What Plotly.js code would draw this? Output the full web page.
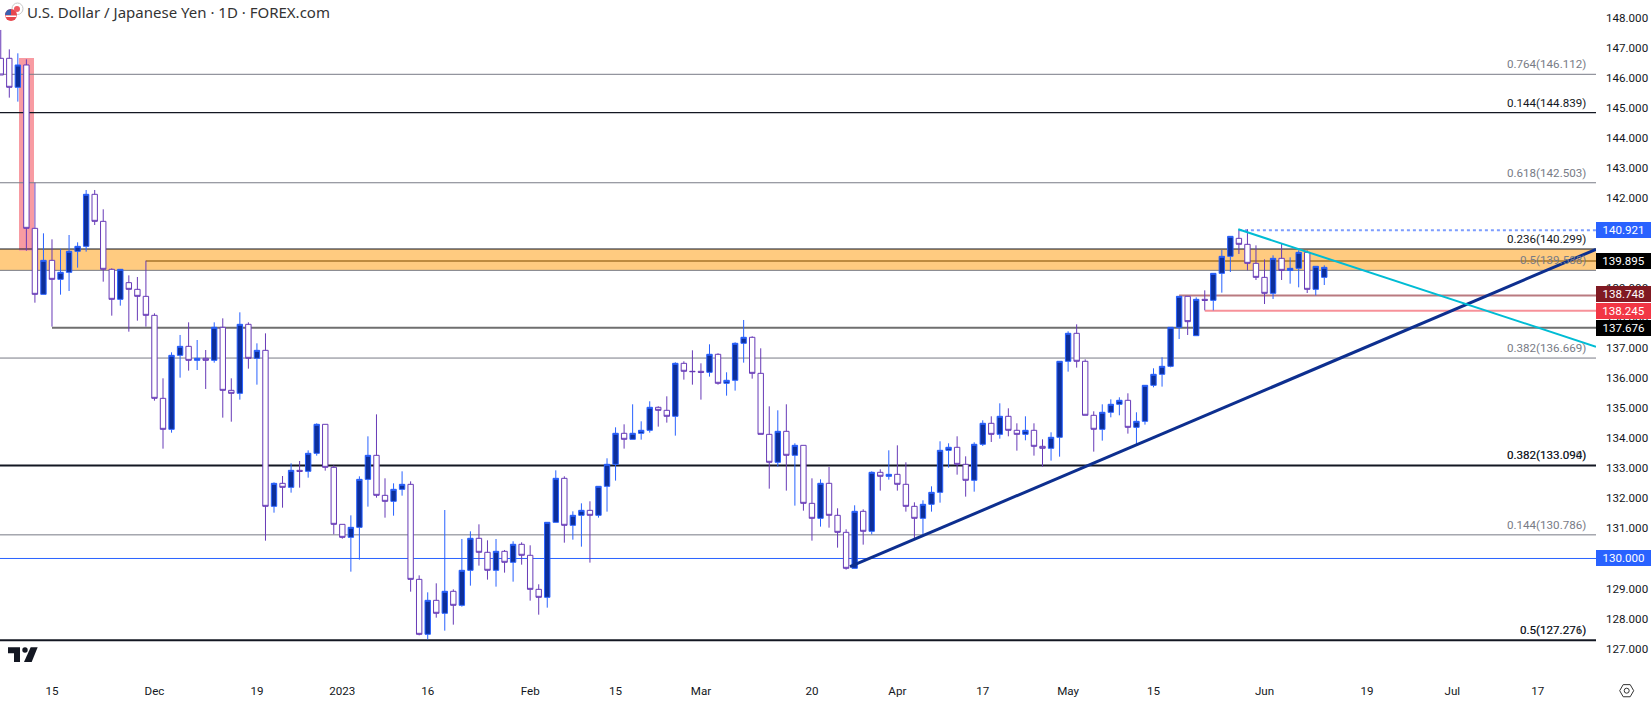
<!DOCTYPE html>
<html>
<head>
<meta charset="utf-8">
<script src="https://cdn.plot.ly/plotly-3.0.1.min.js"></script>
<style>html,body{margin:0;padding:0;background:#fff;overflow:hidden}#chart{width:1651px;height:701px}</style>
</head>
<body>
<div id="chart"></div>
<script>
// Daily bars, ten to a line.
const opens = [
146.644,146.644,145.679,146.422,140.986,138.790,139.921,139.289,139.522,140.221,
140.387,142.118,141.219,139.622,138.623,139.178,138.956,138.723,138.091,135.329,
134.297,136.760,137.059,136.594,136.660,136.594,137.692,135.595,135.495,137.792,
136.660,136.926,131.735,132.500,132.367,132.933,132.900,133.499,134.464,133.033,
131.136,130.703,131.036,132.633,133.432,132.101,131.901,132.301,132.467,129.305,
127.476,128.607,128.175,128.907,128.441,129.606,130.671,130.205,129.606,130.238,
129.872,130.471,130.105,128.973,128.707,131.203,132.667,131.103,131.436,131.602,
131.436,132.401,133.133,134.165,133.965,134.165,134.265,135.030,134.930,134.731,
136.494,136.228,136.228,136.195,136.794,135.829,135.929,137.160,137.360,136.161,
134.131,133.200,134.231,133.433,133.765,131.835,131.336,132.501,131.436,130.870,
129.672,131.569,130.904,132.867,132.734,132.800,132.468,131.735,131.336,131.802,
132.201,133.599,133.699,133.133,132.601,133.799,134.498,134.131,134.731,134.265,
134.131,134.265,133.732,133.666,134.032,136.561,137.493,136.561,134.764,134.298,
134.864,135.130,135.263,134.364,134.564,135.762,136.128,136.394,137.691,138.723,
137.414,138.623,138.590,139.488,140.054,140.653,140.454,139.821,139.355,138.823,
139.988,139.588,139.655,140.187,138.956,139.355];
const closes = [
146.089,145.679,146.422,140.986,138.790,139.921,139.289,139.522,140.221,140.387,
142.118,141.219,139.622,138.623,139.622,138.956,138.723,138.091,135.329,134.297,
136.760,137.059,136.594,136.660,136.594,137.692,135.595,135.495,137.792,136.660,
136.926,131.735,132.500,132.367,132.933,132.900,133.499,134.464,133.033,131.136,
130.703,131.036,132.633,133.432,132.101,131.901,132.301,132.467,129.305,127.475,
128.607,128.175,128.907,128.441,129.606,130.671,130.205,129.606,130.238,129.872,
130.471,130.105,128.973,128.707,131.203,132.667,131.103,131.436,131.602,131.436,
132.401,133.133,134.165,133.965,134.165,134.265,135.030,134.930,134.731,136.494,
136.228,136.217,136.195,136.794,135.829,135.929,137.160,137.360,136.161,134.131,
133.200,134.231,133.433,133.765,131.835,131.336,132.501,131.436,130.870,129.672,
131.569,130.904,132.867,132.734,132.800,132.468,131.735,131.336,131.802,132.201,
133.599,133.699,133.133,132.601,133.799,134.498,134.131,134.731,134.265,134.131,
134.265,133.732,133.666,134.032,136.561,137.493,136.561,134.764,134.298,134.864,
135.130,135.263,134.364,134.564,135.762,136.128,136.394,137.692,138.723,137.880,
138.623,138.590,139.488,140.054,140.720,140.454,139.821,139.355,138.823,139.988,
139.588,139.655,140.187,138.956,139.722,139.688];
const highs = [
147.587,146.943,146.810,146.610,142.506,140.820,140.620,140.298,140.764,140.520,
142.262,142.262,141.619,139.655,139.622,139.422,139.367,139.910,138.158,135.995,
136.860,137.437,137.858,137.270,136.937,137.858,137.991,135.995,138.191,137.858,
137.159,137.492,132.533,132.744,133.166,133.243,133.598,134.497,134.464,133.099,
131.136,131.435,132.733,134.064,134.796,132.667,132.500,132.900,132.567,129.438,
128.873,129.173,131.613,128.973,130.648,130.903,131.136,130.604,130.648,130.282,
130.571,130.537,130.438,129.140,131.203,132.933,132.734,131.569,131.835,131.902,
132.401,133.333,134.364,134.464,135.130,134.564,135.230,135.063,135.396,136.528,
136.561,136.927,136.494,137.127,136.827,136.195,137.193,137.936,137.393,136.994,
135.063,134.930,135.130,133.832,133.765,132.667,132.634,133.044,131.669,130.970,
131.769,131.636,132.900,132.967,133.599,133.765,133.200,131.868,131.935,132.401,
133.899,133.832,134.065,133.399,133.865,134.598,134.731,135.163,134.997,134.498,
134.731,134.498,133.965,134.198,136.561,137.559,137.792,136.627,134.897,135.130,
135.296,135.363,135.496,134.864,135.762,136.328,136.694,137.692,138.723,138.723,
138.690,138.923,139.488,140.265,140.720,140.953,140.953,140.420,139.954,140.088,
140.487,140.021,140.254,140.254,139.722,139.755];
const lows = [
146.089,145.335,145.202,140.243,138.512,138.790,137.714,138.779,138.901,139.677,
140.210,141.097,139.211,138.080,138.413,137.547,137.913,137.714,135.251,133.654,
134.186,136.017,136.250,136.272,135.640,136.516,134.686,134.552,135.285,136.316,
135.784,130.592,131.524,131.690,132.190,132.356,132.689,133.421,132.922,130.803,
130.659,129.561,129.960,131.724,132.023,131.358,131.424,132.090,128.895,127.442,
127.310,128.030,127.598,127.797,128.396,129.095,129.761,129.295,129.062,129.528,
129.228,129.794,128.596,128.130,128.363,131.203,130.526,130.626,130.393,129.861,
131.358,131.558,132.590,133.655,133.965,133.954,134.187,134.387,134.520,134.087,
135.951,135.784,135.285,136.051,135.784,135.418,135.585,136.516,135.984,134.131,
132.323,133.055,132.257,131.758,131.591,130.593,131.059,131.025,130.360,129.628,
129.672,130.460,130.804,132.257,132.623,132.257,131.558,130.671,130.804,131.558,
131.857,133.022,132.789,132.057,132.223,133.743,133.876,133.987,134.065,133.588,
133.932,133.422,133.055,133.255,133.388,136.217,136.350,134.764,133.555,133.921,
134.697,134.764,134.154,133.799,134.453,135.696,135.718,136.361,137.303,137.436,
137.414,138.257,138.257,138.845,139.533,140.132,139.588,139.267,138.468,138.634,
139.267,139.145,139.023,138.834,138.756,139.100];

const tickBars = [6,18,30,40,50,62,72,82,95,105,115,125,135,148,160,170,180];
const tickNames = ['15','Dec','19','2023','16','Feb','15','Mar','20','Apr','17','May','15','Jun','19','Jul','17'];

const fibLevels = [146.112,144.839,142.503,140.299,139.588,136.669,133.094,130.786,127.276];
const fibRatios = ['0.764','0.144','0.618','0.236','0.5','0.382','0.382','0.144','0.5'];
const fibColors = ['#787b86','#131722','#787b86','#131722','#787b86','#787b86','#131722','#787b86','#131722'];
const fibWidths = [1,1.2,1,1.2,1,1,2,1,2];

const markLevels = [140.921,139.895,138.748,138.245,137.676,130];
const markStarts = [145,17,138,141,6,0];
const markLineColors = ['#7c9dff','#bd8a3f','#b97a80','#f7929a','#6f6f6f','#2962ff'];
const markDashes = ['dot','solid','solid','solid','solid','solid'];
const markWidths = [2,2,2,2,2,1];
const markTagColors = ['#2962ff','#000000','#801922','#f23645','#000000','#2962ff'];
const markTagShift = [0,0,2,0,0,0];

const zoneTop = 140.299, zoneBottom = 139.588;
const dropBox = {x0:2.136, x1:3.893, y0:140.24, y1:146.654};

const upTrendX = [99.45,186.82], upTrendY = [129.726,140.288];
const downTrendX = [144.93,186.82], downTrendY = [140.954,137.047];

const xRange = [-0.0891,186.82];
const yRange = [126.355,148.5845];

const PW = 1596, PH = 668;
const px = v => v/PW, py = v => 1 - v/PH;
const barX = opens.map((_, i) => i);

const FONT = 'Roboto, "Noto Sans", sans-serif';
const TITLEFONT = '"Noto Sans", Roboto, sans-serif';

const shapes = [];
function paperShape(o){ shapes.push(Object.assign({xref:'paper',yref:'paper',layer:'above',line:{width:0}}, o)); }
shapes.push({type:'rect',xref:'x',yref:'y',x0:xRange[0],x1:xRange[1],y0:zoneBottom,y1:zoneTop,fillcolor:'#ffcb80',line:{width:0},layer:'below'});
shapes.push({type:'rect',xref:'x',yref:'y',x0:dropBox.x0,x1:dropBox.x1,y0:dropBox.y0,y1:dropBox.y1,fillcolor:'#f89ba2',line:{width:0},layer:'below'});
fibLevels.forEach((v,i)=>shapes.push({type:'line',xref:'x',yref:'y',x0:xRange[0],x1:xRange[1],y0:v,y1:v,layer:'below',line:{color:fibColors[i],width:fibWidths[i]}}));
markLevels.forEach((v,i)=>shapes.push({type:'line',xref:'x',yref:'y',x0:markStarts[i]==0?xRange[0]:markStarts[i],x1:xRange[1],y0:v,y1:v,layer:'below',line:{color:markLineColors[i],width:markWidths[i],dash:markDashes[i]}}));

// TradingView mark, bottom-left
const P = (pts)=> 'M'+pts.map(p=>px(p[0]/3)+','+py(330+p[1]/3)).join('L')+'Z';
paperShape({type:'path',path:P([[24,952],[60,952],[60,996],[42,996],[42,970],[24,970]]),fillcolor:'#131722'});
paperShape({type:'path',path:P([[92,952],[113,952],[95,996],[72,996]]),fillcolor:'#131722'});
paperShape({type:'circle',x0:px(22.3),x1:px(27.7),y0:py(650-2.7),y1:py(650+2.7),fillcolor:'#131722'});
// Currency flags, top-left
paperShape({type:'circle',x0:px(12),x1:px(23),y0:py(3),y1:py(14.5),fillcolor:'#ffffff',line:{color:'#c8c8c8',width:1}});
paperShape({type:'circle',x0:px(14),x1:px(20),y0:py(6),y1:py(12),fillcolor:'#ee5a62'});
paperShape({type:'circle',x0:px(5),x1:px(17),y0:py(9),y1:py(21),fillcolor:'#e8474d'});
paperShape({type:'rect',x0:px(5.6),x1:px(16.4),y0:py(15.5),y1:py(17),fillcolor:'#ffffff'});
paperShape({type:'path',path:'M'+px(5.3)+','+py(13)+'L'+px(7.5)+','+py(10)+'L'+px(11)+','+py(9)+'L'+px(11)+','+py(15)+'L'+px(5.2)+','+py(15)+'Z',fillcolor:'#3a5fb0'});
// Settings hexagon, bottom-right
const hexC=[1626.7,690.7], hexR=7;
const hexPts=[0,60,120,180,240,300].map(a=>[hexC[0]+hexR*Math.cos(a*Math.PI/180),hexC[1]+hexR*Math.sin(a*Math.PI/180)]);
paperShape({type:'path',path:'M'+hexPts.map(p=>px(p[0])+','+py(p[1])).join('L')+'Z',line:{color:'#333333',width:1}});
paperShape({type:'circle',x0:px(hexC[0]-2.5),x1:px(hexC[0]+2.5),y0:py(hexC[1]-2.5),y1:py(hexC[1]+2.5),line:{color:'#333333',width:1}});

const annotations = [];
annotations.push({xref:'paper',yref:'y',x:1587.3/PW,y:133.094,xanchor:'right',yanchor:'middle',yshift:10,showarrow:false,borderpad:0,text:'0.382(133.090)',font:{family:FONT,size:11.6,color:'#787b86'}});
annotations.push({xref:'paper',yref:'y',x:1587.3/PW,y:127.276,xanchor:'right',yanchor:'middle',yshift:10,showarrow:false,borderpad:0,text:'0.5(127.271)',font:{family:FONT,size:11.6,color:'#787b86'}});
fibLevels.forEach((v,i)=>annotations.push({xref:'paper',yref:'y',x:1587.3/PW,y:v,xanchor:'right',yanchor:'middle',yshift:10,showarrow:false,borderpad:0,
  text:fibRatios[i]+'('+v.toFixed(3)+')',font:{family:FONT,size:11.6,color:fibColors[i]}}));
markLevels.forEach((v,i)=>annotations.push({xref:'paper',yref:'y',x:1,y:v,xanchor:'left',yanchor:'middle',yshift:markTagShift[i],showarrow:false,borderpad:0,borderwidth:0,
  width:55,height:16,align:'center',valign:'middle',bgcolor:markTagColors[i],text:v.toFixed(3),font:{family:FONT,size:11.6,color:'#ffffff'}}));

const traces = [
 {type:'candlestick',x:barX,open:opens,high:highs,low:lows,close:closes,whiskerwidth:0,hoverinfo:'skip',
  increasing:{fillcolor:'#0d2f9a',line:{color:'#2962ff',width:1}},
  decreasing:{fillcolor:'#ffffff',line:{color:'#673ab7',width:1}}},
 {type:'scatter',mode:'lines',x:upTrendX,y:upTrendY,line:{color:'#0d2f8f',width:3},hoverinfo:'skip'},
 {type:'scatter',mode:'lines',x:downTrendX,y:downTrendY,line:{color:'#00bcd4',width:2},hoverinfo:'skip'}
];
const layout = {
 width:1651,height:701,margin:{l:0,r:55,t:0,b:33,pad:0},paper_bgcolor:'#fff',plot_bgcolor:'#fff',showlegend:false,
 boxgap:0.1,boxgroupgap:0.3,
 title:{text:'U.S. Dollar / Japanese Yen · 1D · FOREX.com',x:27/1651,xanchor:'left',xref:'container',y:1-13/701,yref:'container',yanchor:'middle',font:{family:TITLEFONT,size:15,color:'#333333'},pad:{t:0,b:0,l:0,r:0}},
 xaxis:{type:'linear',range:xRange,showgrid:false,zeroline:false,showline:false,ticks:'',tickmode:'array',tickvals:tickBars,ticktext:tickNames,ticklabelstandoff:14,tickfont:{family:FONT,size:11.6,color:'#131722'},rangeslider:{visible:false},fixedrange:true},
 yaxis:{type:'linear',side:'right',range:yRange,showgrid:false,zeroline:false,showline:false,ticks:'',dtick:1,tick0:127,tickformat:'.3f',ticklabelstandoff:9,tickfont:{family:FONT,size:11.6,color:'#131722'},fixedrange:true},
 shapes:shapes,annotations:annotations
};
Plotly.newPlot('chart',traces,layout,{displayModeBar:false,staticPlot:true});
</script>
</body>
</html>
